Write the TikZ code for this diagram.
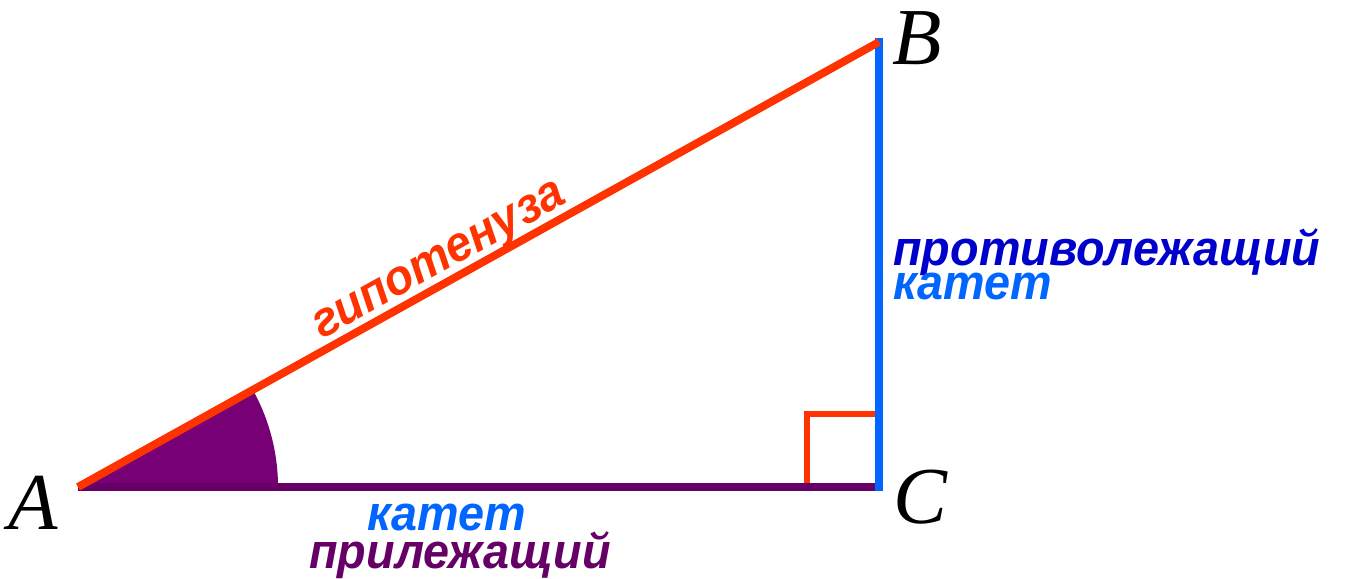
\documentclass[tikz,border=0pt]{standalone}
\usepackage{fontspec}
\setmainfont{Liberation Serif}
\newfontfamily\legfont{Liberation Sans}[FakeStretch=0.95]
\usepackage{tikz}
\usetikzlibrary{positioning}
\definecolor{hypred}{RGB}{255,51,0}
\definecolor{legblue}{RGB}{0,102,255}
\definecolor{oppblue}{RGB}{0,0,204}
\definecolor{adjpurple}{RGB}{102,0,102}
\definecolor{anglepurple}{RGB}{119,0,119}
\newcommand{\vertexname}[3]{
\node[vertex] (#1) at (#2) {#3};
}
\tikzset{
  hyp/.style={hypred, line width=4.5pt},
  oppleg/.style={legblue, line width=4.8pt, line cap=rect},
  adjleg/.style={adjpurple, line width=5pt},
  rightmark/.style={hypred, line width=3.6pt},
  legtext/.style={font=\legfont\bfseries\itshape\fontsize{28}{34}\selectfont, inner sep=0pt},
  vertex/.style={font=\itshape\fontsize{46}{54}\selectfont, inner sep=0pt}
}

\begin{document}
\begin{tikzpicture}[x=0.02cm, y=0.02cm]
    \useasboundingbox (0,0) rectangle (1345,578);
    \coordinate (A) at (78,91);
    \coordinate (C) at (879,91);
    \coordinate (B) at (879,536);
    % angle at A
    \fill[anglepurple] (A) -- ++(200,0) arc[start angle=0, end angle=29.06, radius=200] -- cycle;
    % right angle at C
    \coordinate (Cx) at (807,91);
    \coordinate (Cy) at (879,164);
    \draw[rightmark] (Cx) |- (Cy);
    \draw[adjleg] (A) -- (C);
    \draw[oppleg] (C) -- (B);
    \draw[hyp] (A) -- (B)
        node[pos=0.465, sloped, anchor=base, yshift=6pt, legtext, text=hypred] (hyptext) {гипотенуза};
    \vertexname{labA}{33,75}{A}
    \vertexname{labB}{917,540}{B}
    \vertexname{labC}{920,81}{C}
    \node[legtext, text=oppblue, anchor=base west] (opptext) at (893,312) {противолежащий};
    \node[legtext, text=legblue, anchor=base west] (oppkatet) at (893,278) {катет};
    \node[legtext, text=legblue, anchor=base] (adjkatet) at (447,48) {катет};
    \node[legtext, text=adjpurple, anchor=base] (adjtext) at (460,10) {прилежащий};
\end{tikzpicture}
\end{document}
